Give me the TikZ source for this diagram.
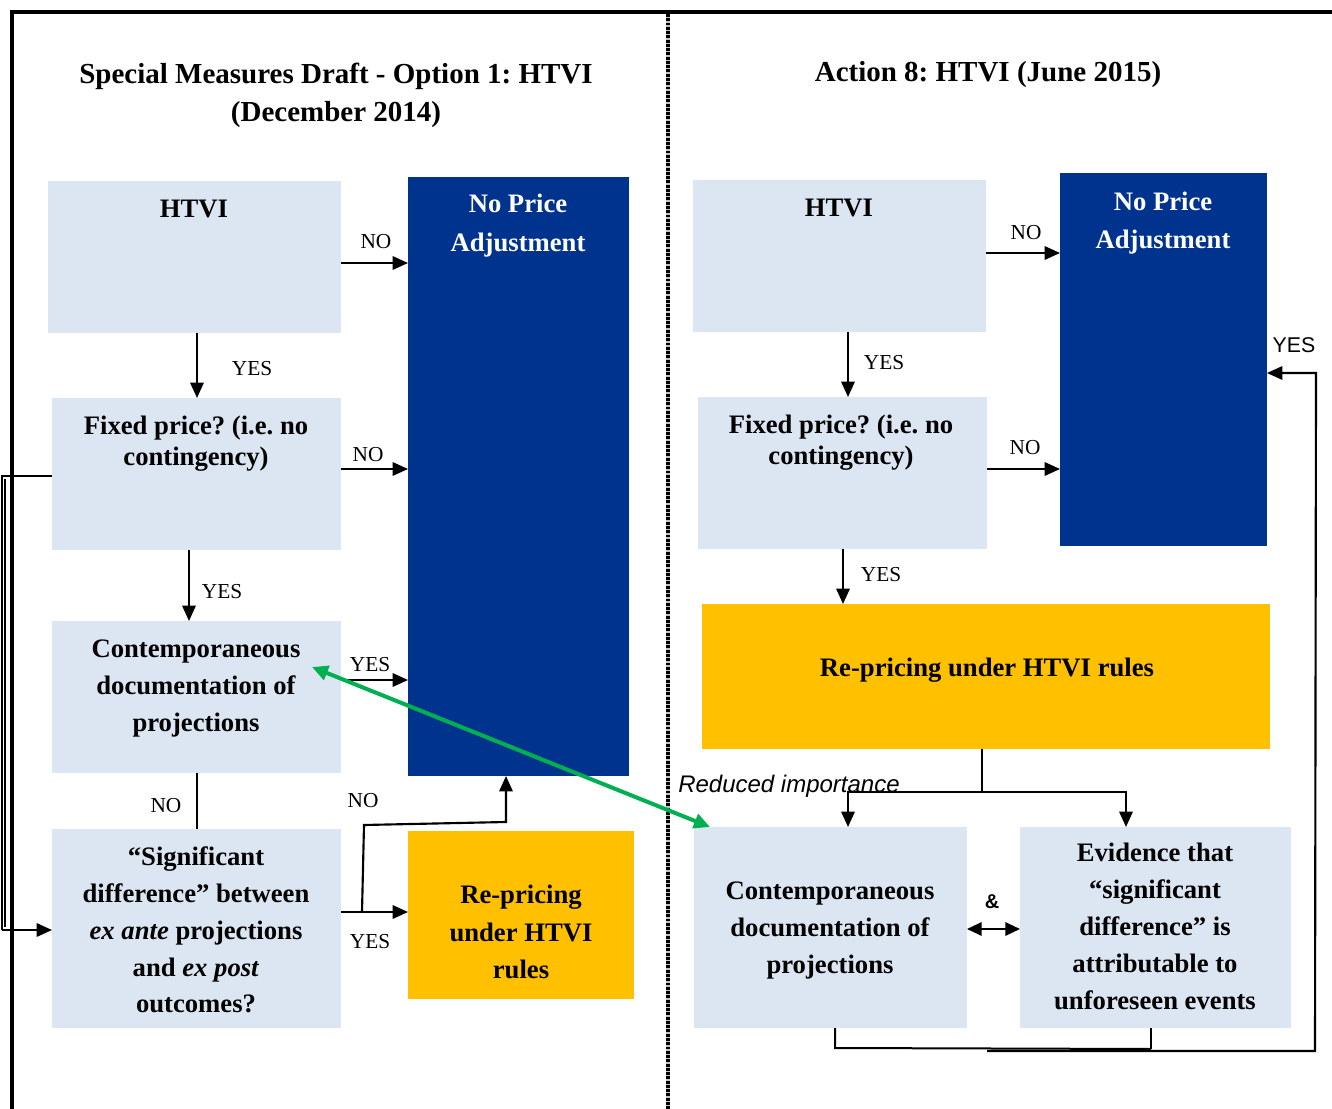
\documentclass[tikz,border=0pt]{standalone}
\usepackage{fontspec}
\setmainfont{Liberation Serif}
\setsansfont{Liberation Sans}
\usetikzlibrary{arrows.meta,calc}
\frenchspacing
\definecolor{lb}{HTML}{DCE6F2}
\definecolor{db}{HTML}{00338D}
\definecolor{yl}{HTML}{FFC000}
\definecolor{gn}{HTML}{00B050}
\newcommand\pbox[6]{\node[#6, anchor=north west, minimum width={(#4-#2)*0.75pt}, minimum height={(#5-#3)*0.75pt}] (#1) at (#2,#3) {};}
\tikzset{
  lbox/.style={fill=lb, inner sep=0pt, outer sep=0pt},
  dbox/.style={fill=db, inner sep=0pt, outer sep=0pt},
  ybox/.style={fill=yl, inner sep=0pt, outer sep=0pt},
  ttl/.style={font=\fontsize{21.75}{28.5}\selectfont\bfseries, align=center, inner sep=0pt},
  btxt/.style={font=\fontsize{20}{27.75}\selectfont\bfseries, align=center, inner sep=0pt},
  wtxt/.style={btxt, text=white, font=\fontsize{20}{29.25}\selectfont\bfseries},
  lbl/.style={font=\fontsize{16}{19}\selectfont, inner sep=0pt},
  slbl/.style={font=\sffamily\fontsize{16}{19}\selectfont, inner sep=0pt},
  arr/.style={line width=1.6pt, -{Triangle[length=11.5pt,width=10pt]}},
  ln/.style={line width=1.6pt},
  garr/.style={draw=gn, line width=3pt, {Triangle[length=12pt,width=11pt]}-{Triangle[length=12pt,width=11pt]}},
}
\begin{document}
\begin{tikzpicture}[x=0.75pt, y=-0.75pt]
\useasboundingbox (0,0) rectangle (1332,1109);
% frame
\draw[line width=3pt] (10,12) -- (1332,12);
\draw[line width=2.5pt] (12,10) -- (12,1109);
\draw[gray!45, line width=3pt] (668,14) -- (668,1109);
\draw[black, line width=3pt, dash pattern=on 2.2pt off 1pt] (668,14) -- (668,1109);

% titles
\node[ttl] (titleL) at (336,95) {Special Measures Draft - Option 1: HTVI\\(December 2014)};
\node[ttl] (titleR) at (988,75) {Action 8: HTVI (June 2015)};

% left boxes
\pbox{htviL}{48}{181}{341}{333}{lbox}
\pbox{fixL}{52}{398}{341}{550}{lbox}
\pbox{conL}{52}{621}{341}{773}{lbox}
\pbox{sigL}{52}{829}{341}{1028}{lbox}
\pbox{npaL}{408}{177}{629}{776}{dbox}
\pbox{repL}{408}{831}{634}{999}{ybox}

\node[btxt] (tHtviL) at (194,209) {HTVI};
\node[wtxt] (tNpaL) at (518,226) {No Price\\Adjustment};
\node[btxt, font=\fontsize{20}{23.25}\selectfont\bfseries] (tFixL) at (196,444) {Fixed price? (i.e. no\\contingency)};
\node[btxt] (tConL) at (196,689) {Contemporaneous\\documentation of\\projections};
\node[btxt, font=\fontsize{20}{27.6}\selectfont\bfseries] (tSigL) at (196,930) {“Significant\\difference” between\\\textit{ex ante} projections\\and \textit{ex post}\\outcomes?};
\node[btxt, font=\fontsize{20}{28.1}\selectfont\bfseries] (tRepL) at (521,932) {Re-pricing\\under HTVI\\rules};

% right boxes
\pbox{htviR}{693}{180}{986}{332}{lbox}
\pbox{fixR}{698}{397}{987}{549}{lbox}
\pbox{npaR}{1060}{173}{1267}{546}{dbox}
\pbox{repR}{702}{604}{1270}{749}{ybox}
\pbox{conR}{694}{827}{967}{1028}{lbox}
\pbox{evR}{1020}{827}{1291}{1028}{lbox}

\node[btxt] (tHtviR) at (839,208) {HTVI};
\node[wtxt, font=\fontsize{20}{28.5}\selectfont\bfseries] (tNpaR) at (1163,223) {No Price\\Adjustment};
\node[btxt, font=\fontsize{20}{23.25}\selectfont\bfseries] (tFixR) at (841,443) {Fixed price? (i.e. no\\contingency)};
\node[btxt] (tRepR) at (987,670) {Re-pricing under HTVI rules};
\node[btxt] (tConR) at (830,931) {Contemporaneous\\documentation of\\projections};
\node[btxt] (tEvR) at (1155,926) {Evidence that\\“significant\\difference” is\\attributable to\\unforeseen events};

% left connectors
\draw[arr] (htviL.east |- 0,263) -- (npaL.west |- 0,263);
\node[lbl] (nL1) at (376,242) {NO};
\draw[arr] (htviL.south -| 197,0) -- (fixL.north -| 197,0);
\node[lbl] (yL1) at (252,369) {YES};
\draw[arr] (fixL.east |- 0,469) -- (npaL.west |- 0,469);
\node[lbl] (nL2) at (368,455) {NO};
\draw[arr] (fixL.south -| 189,0) -- (conL.north -| 189,0);
\node[lbl] (yL2) at (222,592) {YES};
\draw[arr] (conL.east |- 0,680) -- (npaL.west |- 0,680);
\node[lbl] (yL3) at (370,665) {YES};
\draw[ln] (conL.south -| 197,0) -- (sigL.north -| 197,0);
\node[lbl] (nL3) at (166,806) {NO};
\draw[arr] (sigL.east |- 0,912) -- (repL.west |- 0,912);
\node[lbl] (yL4) at (370,942) {YES};
\coordinate (brk) at (362,912);
\draw[arr] (brk) -- (364,825) -- (506,822) -- (npaL.south -| 506,0);
\node[lbl] (nL4) at (363,801) {NO};
% loop on the left
\draw[line width=1pt] (fixL.west |- 0,476) -- (2,476) -- (2,930);
\draw[line width=1pt] (5,479) -- (5,927);
\draw[arr] (2,930) -- (sigL.west |- 0,930);

% green arrow
\draw[garr] ($(conL.east)+(-29,-30)$) -- ($(conR.north west)+(16,0)$);

% right connectors
\draw[arr] (htviR.east |- 0,253) -- (npaR.west |- 0,253);
\node[lbl] (nR1) at (1026,233) {NO};
\draw[arr] (htviR.south -| 848,0) -- (fixR.north -| 848,0);
\node[lbl] (yR1) at (884,363) {YES};
\draw[arr] (fixR.east |- 0,469) -- (npaR.west |- 0,469);
\node[lbl] (nR2) at (1025,448) {NO};
\draw[arr] (fixR.south -| 843,0) -- (repR.north -| 843,0);
\node[lbl] (yR2) at (881,575) {YES};
\coordinate (split) at (982,792);
\draw[ln] (repR.south -| split) -- (split);
\draw[arr] (split) -| (conR.north -| 848,0);
\draw[arr] (split) -| (evR.north -| 1126,0);
\node[font=\sffamily\itshape\fontsize{18}{21}\selectfont, inner sep=0pt] (reduced) at (789,786) {Reduced importance};
\node[font=\sffamily\bfseries\fontsize{15}{18}\selectfont, inner sep=0pt] (amp) at (992,902) {\&};
\draw[line width=1.6pt, {Triangle[length=11pt,width=10pt]}-{Triangle[length=11pt,width=10pt]}] (conR.east |- 0,929) -- (evR.west |- 0,929);
% bottom feedback
\draw[line width=1.5pt] (conR.south -| 835,0) -- (835,1048) -- (1151,1049);
\draw[line width=1.5pt] (evR.south -| 1151,0) -- (1151,1049);
\draw[arr] (987,1051) -- (1315,1051) -- (1316,373) -- (npaR.east |- 0,373);
\node[slbl] (yR3) at (1294,345) {YES};
\end{tikzpicture}
\end{document}
